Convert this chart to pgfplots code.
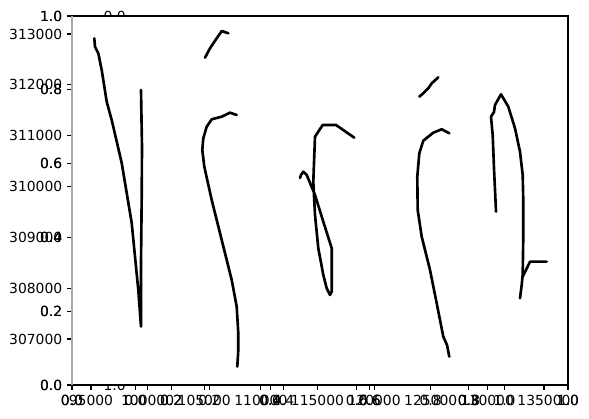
\documentclass[border=0pt]{standalone}
\usepackage{pgfplots}
\pgfplotsset{compat=1.18}
\usepackage{fontspec}
\setmainfont{DejaVu Sans}
\definecolor{spinegray}{HTML}{AAAAAA}
\pgfplotsset{
  base/.style={scale only axis, anchor=south west,
    tick align=outside, major tick length=3.5pt,
    every tick/.style={black, line width=0.8pt},
    tick label style={font=\fontsize{10}{12}\selectfont},
    /pgf/number format/assume math mode=true,
    xtick pos=left, ytick pos=left, minor tick num=0,
    axis line style={line width=0.8pt}},
  main/.style={base, width=357.12pt, height=265.68pt, at={(51.84pt,23.76pt)}},
  unit/.style={xmin=0,xmax=1,ymin=0,ymax=1,
    xtick={0,0.2,0.4,0.6,0.8,1}, ytick={0,0.2,0.4,0.6,0.8,1},
    xticklabels={0.0,0.2,0.4,0.6,0.8,1.0}, yticklabels={0.0,0.2,0.4,0.6,0.8,1.0}},
  ln/.style={black, solid, line width=1.9pt, line join=round, line cap=round, mark=none},
}
\begin{document}
\begin{tikzpicture}
% hidden square axes behind
\begin{axis}[base, unit, width=265.68pt, height=265.68pt, at={(97.56pt,23.76pt)}, y dir=reverse]
\end{axis}
% outer unit axes (drawn twice, as in the original)
\begin{axis}[main, unit, clip=false, axis line style={draw=none},
  axis background/.style={fill=white}]
\end{axis}
\begin{axis}[main, unit, clip=false, axis line style={draw=none}]
\draw[line width=0.8pt] (rel axis cs:0,0) -- (rel axis cs:1,0) -- (rel axis cs:1,1) -- (rel axis cs:0,1);
\end{axis}
% data axes
\begin{axis}[main,
  axis x line*=bottom, axis y line*=left,
  tick align=outside, xtick pos=left, ytick pos=left,
  x axis line style={black, line width=0.8pt},
  y axis line style={spinegray, line width=0.8pt},
  xmin=93322, xmax=137119, ymin=306095, ymax=313354,
  scaled x ticks=false, scaled y ticks=false,
  xtick={95000,100000,105000,110000,115000,120000,125000,130000,135000},
  xticklabels={95000,100000,105000,110000,115000,120000,125000,130000,135000},
  ytick={307000,308000,309000,310000,311000,312000,313000},
  yticklabels={307000,308000,309000,310000,311000,312000,313000}]
\addplot[ln] coordinates {(95291,312915) (95353,312750) (95645,312620) (95945,312292) (96386,311668) (96828,311308) (97711,310463) (98594,309282) (98885,308620) (99177,307964) (99415,307243) (99415,308496) (99477,309800) (99503,310783) (99415,311898)};
\addplot[ln] coordinates {(105066,312534) (105508,312719) (105799,312817) (106541,313059) (107124,313014)};
\addplot[ln] coordinates {(107865,311407) (107274,311452) (106541,311373) (105658,311322) (105216,311176) (104916,310948) (104828,310718) (105004,310390) (105658,309735) (106541,308948) (107424,308161) (107865,307636) (108006,307113) (108006,306784) (107918,306456)};
\addplot[ln] coordinates {(118249,310960) (116634,311210) (115459,311210) (114779,310980) (114629,310095) (114779,309440) (115071,308785) (115512,308260) (115812,307998) (116104,307866) (116254,307931) (116254,308785) (115512,309308) (114779,309833) (114046,310227) (113746,310291) (113543,310227) (113455,310168)};
\addplot[ln] coordinates {(123989,311767) (124342,311834) (124784,311932) (125084,312030) (125667,312148)};
\addplot[ln] coordinates {(126638,311047) (125967,311126) (125225,311059) (124342,310901) (123989,310653) (123812,310193) (123848,309538) (124201,309013) (124934,308358) (125526,307703) (126108,307046) (126435,306883) (126638,306653)};
\addplot[ln] coordinates {(130762,309505) (130585,310358) (130470,311013) (130320,311373) (130585,311466) (130673,311603) (131203,311814) (131848,311570) (132439,311145) (132881,310685) (133119,310227) (133172,309701) (133172,309046) (133119,308260) (133031,308063) (132881,307802)};
\addplot[ln] coordinates {(133119,308226) (133764,308521) (135239,308521)};
\end{axis}
\pgfresetboundingbox
\useasboundingbox (0,0) rectangle (424.08pt,300.96pt);
\end{tikzpicture}
\end{document}
